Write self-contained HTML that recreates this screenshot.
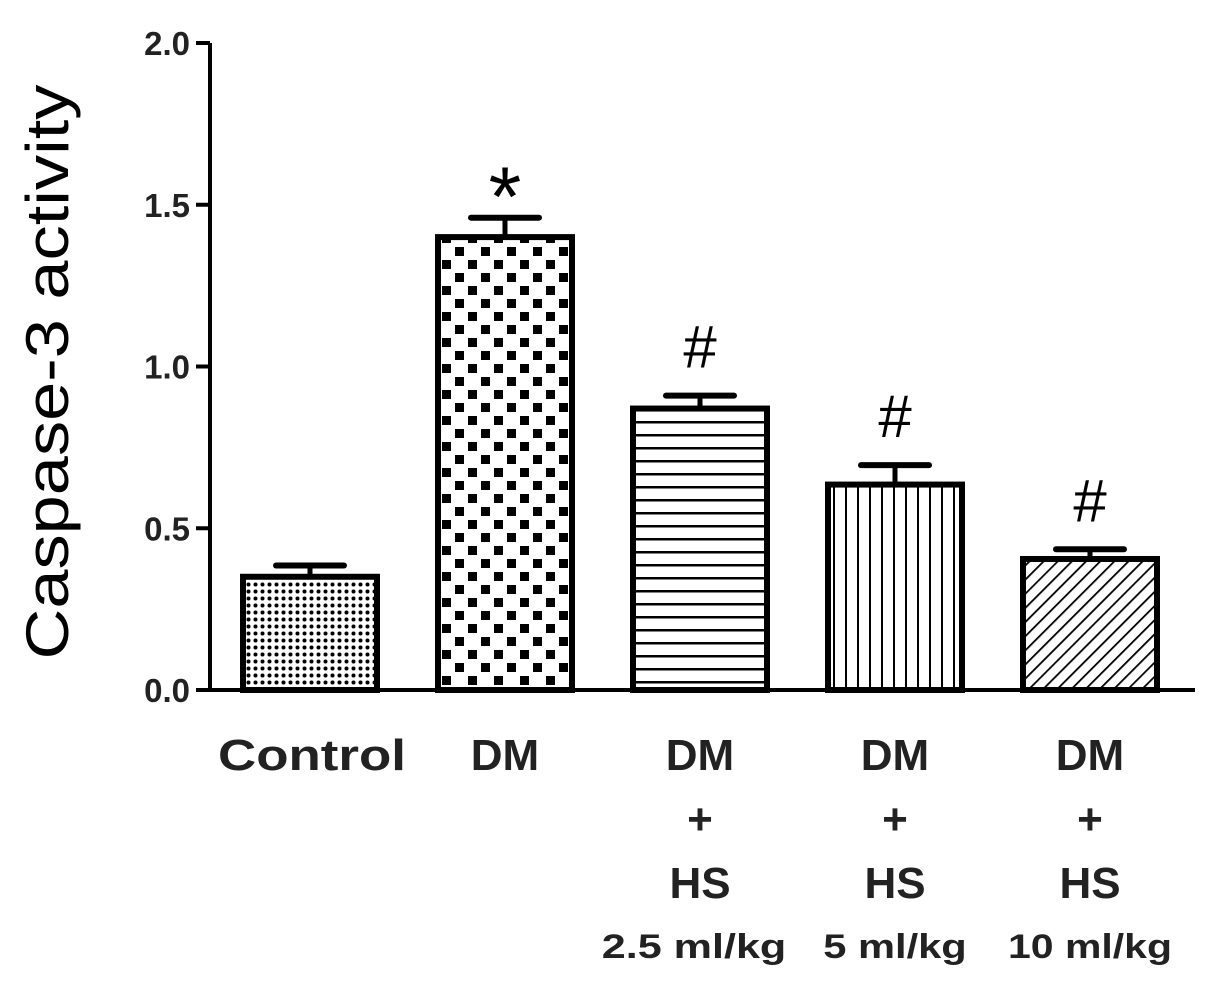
<!DOCTYPE html>
<html><head><meta charset="utf-8"><style>
body{margin:0;background:#fff;}
svg text{font-family:"Liberation Sans",Arial,sans-serif;}
</style></head><body>
<svg id="chart" width="1205" height="980" viewBox="0 0 1205 980" xmlns="http://www.w3.org/2000/svg">
<defs>
<pattern id="p0" width="7" height="7" patternUnits="userSpaceOnUse"><rect width="7" height="7" fill="#fff"/><circle cx="3.5" cy="3.5" r="2" fill="#000"/></pattern>
<pattern id="p1" width="26" height="26" patternUnits="userSpaceOnUse"><rect width="26" height="26" fill="#fff"/><rect x="0" y="0" width="9" height="9" fill="#000"/><rect x="13" y="13" width="9" height="9" fill="#000"/></pattern>
<pattern id="p2" width="10" height="13" patternUnits="userSpaceOnUse"><rect width="10" height="13" fill="#fff"/><rect y="5" width="10" height="2.5" fill="#000"/></pattern>
<pattern id="p3" width="12" height="10" patternUnits="userSpaceOnUse"><rect width="12" height="10" fill="#fff"/><rect x="5" width="2" height="10" fill="#000"/></pattern>
<pattern id="p4" width="10" height="10" patternUnits="userSpaceOnUse" patternTransform="rotate(45)"><rect width="10" height="10" fill="#fff"/><rect x="4" width="1.8" height="10" fill="#000"/></pattern>
</defs>
<g id="axes"></g><g id="bars"></g>
<text transform="translate(68,372) rotate(-90)" text-anchor="middle" font-size="60" fill="#000" textLength="575" lengthAdjust="spacingAndGlyphs">Caspase-3 activity</text>
</svg>
<script>
const categories=["Control","DM","DM + HS 2.5","DM + HS 5","DM + HS 10"];
const values=[0.35,1.40,0.87,0.635,0.405];
const errors=[0.035,0.06,0.04,0.06,0.03];
const marks=["","*","#","#","#"];
const yTicks=[0,0.5,1.0,1.5,2.0];
const yTickLabels=["0.0","0.5","1.0","1.5","2.0"];
const doseLabels=["","","2.5 ml/kg","5 ml/kg","10 ml/kg"];
const NS="http://www.w3.org/2000/svg";
const y0=690,yTop=43,xAxis=210;
function y(v){return y0-(v/2.0)*(y0-yTop);}
function bx(i){return 243+i*195;}
const bw=134;
function mk(tag,attrs,parent){const e=document.createElementNS(NS,tag);for(const k in attrs)e.setAttribute(k,attrs[k]);parent.appendChild(e);return e;}
const ax=document.getElementById('axes'),bg=document.getElementById('bars');
let e=mk('line',{x1:xAxis,y1:y0,x2:xAxis,y2:yTop,stroke:'#000','stroke-width':4},ax);


e=mk('line',{x1:xAxis-2,y1:y0,x2:1195,y2:y0,stroke:'#000','stroke-width':4},ax);


yTicks.forEach((t,i)=>{
  const l=mk('line',{x1:xAxis-14,y1:y(t),x2:xAxis,y2:y(t),stroke:'#000','stroke-width':4},ax);
  
  
  const tx=mk('text',{x:xAxis-20,y:y(t)+12,'text-anchor':'end','font-size':33,'font-weight':'bold',fill:'#222'},ax);
  tx.textContent=yTickLabels[i];
  
  
});
const pats=['p0','p1','p2','p3','p4'];
values.forEach((v,i)=>{
  const x=bx(i),cx=x+bw/2;
  const et=y(v+errors[i]);
  const el=mk('line',{x1:cx,y1:y(v),x2:cx,y2:et,stroke:'#000','stroke-width':5},bg);
  
  
  const ec=mk('line',{x1:cx-34,y1:et,x2:cx+34,y2:et,stroke:'#000','stroke-width':6,'stroke-linecap':'round'},bg);
  
  
  const r=mk('rect',{x:x,y:y(v),width:bw,height:y0-y(v),fill:'url(#'+pats[i]+')',stroke:'#000','stroke-width':6},bg);
  
  
  if(marks[i]){
    const m=mk('text',{x:cx,y:et-(marks[i]=='*'?-8:28),'text-anchor':'middle','font-size':marks[i]=='*'?84:60,fill:'#000','font-family':'Liberation Serif, serif'},bg);
    m.textContent=marks[i];
    
    
  }
  const lines=i==0?["Control"]:i==1?["DM"]:["DM","+","HS"];
  lines.forEach((s,j)=>{
    const t=mk('text',{x:cx+(i==0?2:0),y:770+j*64,'text-anchor':'middle','font-size':44,'font-weight':'bold',fill:'#222'},bg);
    if(s=="Control"){t.setAttribute('textLength',188);t.setAttribute('lengthAdjust','spacingAndGlyphs');}
    t.textContent=s;
    
    
  });
  if(doseLabels[i]){
    const t=mk('text',{x:cx+(i==2?-6:i==4?0:0),y:958,'text-anchor':'middle','font-size':34,'font-weight':'bold',fill:'#222'},bg);
    t.setAttribute('textLength',doseLabels[i].length*20.5);
    t.setAttribute('lengthAdjust','spacingAndGlyphs');
    t.textContent=doseLabels[i];
    
    
  }
});
</script>
</body></html>
